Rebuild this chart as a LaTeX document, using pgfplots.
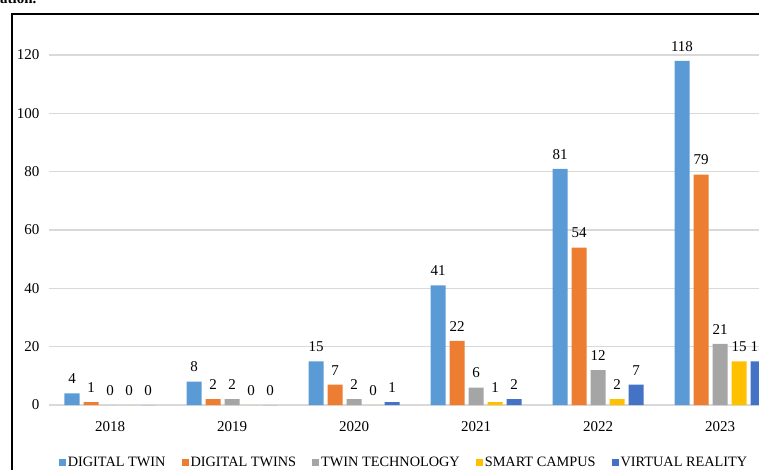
\documentclass[border=0pt]{standalone}
\usepackage{fontspec}
\setmainfont{Liberation Serif}
\usepackage{pgfplots}
\pgfplotsset{compat=1.18}
\definecolor{c1}{HTML}{5B9BD5}
\definecolor{c2}{HTML}{ED7D31}
\definecolor{c3}{HTML}{A5A5A5}
\definecolor{c4}{HTML}{FFC000}
\definecolor{c5}{HTML}{4472C4}
\definecolor{gridc}{HTML}{D9D9D9}
\newcommand{\f}{\fontsize{15}{17}\selectfont}
\newcommand{\lf}{\fontsize{14.3}{16}\selectfont}
\pgfplotsset{sq/.style={legend image code/.code={\fill[##1] (0pt,-3.5pt) rectangle (7pt,3.5pt);}}}
\begin{document}
\begin{tikzpicture}
\useasboundingbox (0pt,0pt) rectangle (759pt,-470pt);
\clip (0pt,0pt) rectangle (759pt,-470pt);
\node[font=\bfseries\f, anchor=base west, inner sep=0pt] at (0pt,-4pt) {ation.};
\draw[line width=2pt] (12pt,-600pt) -- (12pt,-14pt) -- (900pt,-14pt);
\begin{axis}[
    at={(49pt,-405pt)}, anchor=south west,
    scale only axis, width=732pt, height=350pt,
    xmin=-0.5, xmax=5.5, ymin=0, ymax=120,
    ybar=4pt, bar width=15pt,
    xtick={0,...,5}, xticklabels={2018,2019,2020,2021,2022,2023},
    ytick={0,20,...,120},
    ymajorgrids, grid style={draw=gridc, line width=1.2pt},
    axis x line*=bottom, axis y line*=left,
    y axis line style={draw=none},
    x axis line style={draw=gridc, line width=1.2pt},
    major tick length=0pt, tick style={draw=none},
    /pgf/number format/assume math mode=true,
    tick label style={font=\f, text=black},
    yticklabel style={xshift=-6pt},
    xticklabel style={yshift=-13pt},
    nodes near coords,
    nodes near coords style={font=\f, text=black, anchor=south, yshift=6pt},
    legend columns=5,
    legend style={draw=none, fill=none, at={(0.485,-0.165)}, anchor=center, font=\lf,
        /tikz/every even column/.append style={column sep=14pt}},
]
\addplot[sq, fill=c1, draw=none] coordinates {(0,4) (1,8) (2,15) (3,41) (4,81) (5,118)};
\addplot[sq, fill=c2, draw=none] coordinates {(0,1) (1,2) (2,7) (3,22) (4,54) (5,79)};
\addplot[sq, fill=c3, draw=none] coordinates {(0,0) (1,2) (2,2) (3,6) (4,12) (5,21)};
\addplot[sq, fill=c4, draw=none] coordinates {(0,0) (1,0) (2,0) (3,1) (4,2) (5,15)};
\addplot[sq, fill=c5, draw=none] coordinates {(0,0) (1,0) (2,1) (3,2) (4,7) (5,15)};
\legend{DIGITAL TWIN, DIGITAL TWINS, TWIN TECHNOLOGY, SMART CAMPUS, VIRTUAL REALITY}
\end{axis}
\end{tikzpicture}
\end{document}
